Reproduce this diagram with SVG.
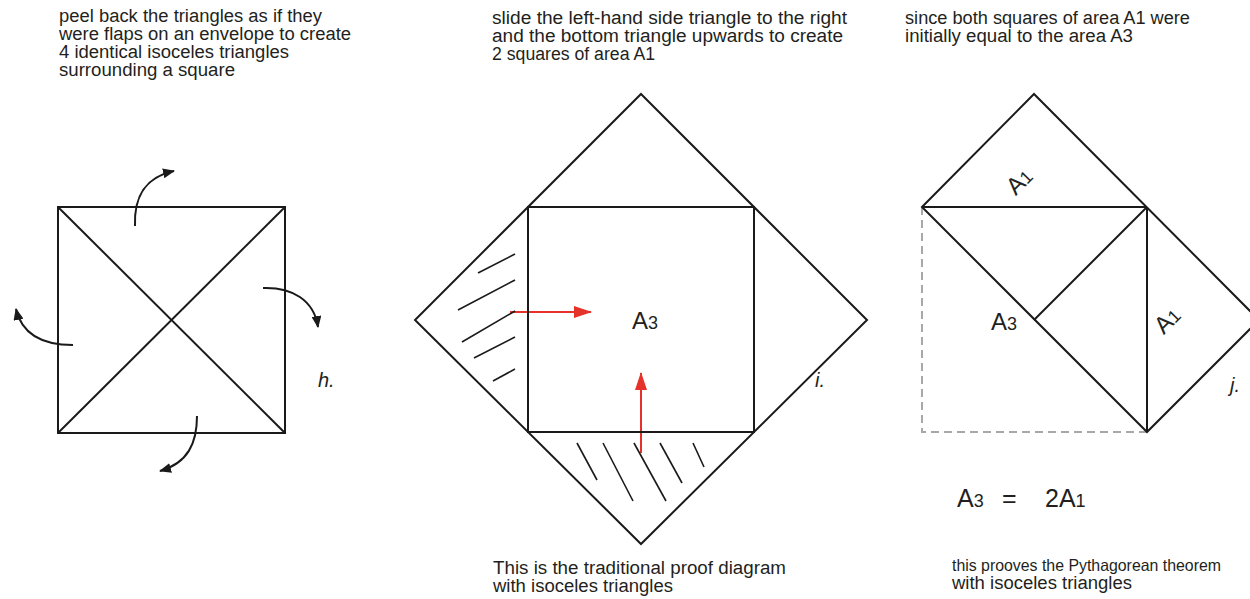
<svg xmlns="http://www.w3.org/2000/svg" width="1250" height="599" viewBox="0 0 1250 599">
<style>
.t{font-family:"Liberation Sans",Arial,sans-serif;font-size:18px;fill:#231f20}
.lbl{font-family:"Liberation Sans",Arial,sans-serif;fill:#231f20}
.it{font-family:"Liberation Sans",Arial,sans-serif;font-style:italic;font-size:20px;fill:#231f20}
.ln{fill:none;stroke:#1a1a1a;stroke-width:2;stroke-linejoin:miter}
.hatch{fill:none;stroke:#1a1a1a;stroke-width:1.6}
.arr{fill:none;stroke:#1a1a1a;stroke-width:2}
.red{fill:none;stroke:#e5322a;stroke-width:2}
.dash{fill:none;stroke:#a8a8a8;stroke-width:2;stroke-dasharray:8 5}
</style>
<defs>
<marker id="ah" viewBox="0 0 12 10" refX="11" refY="5" markerWidth="12" markerHeight="10" markerUnits="userSpaceOnUse" orient="auto">
<path d="M0,0 L12,5 L0,10 Z" fill="#1a1a1a"/>
</marker>
<marker id="rh" viewBox="0 0 18 12" refX="17" refY="6" markerWidth="18" markerHeight="12" markerUnits="userSpaceOnUse" orient="auto">
<path d="M0,0 L18,6 L0,12 Z" fill="#e5322a"/>
</marker>
</defs>

<g id="panel-h">
<text class="t" x="59" y="22" textLength="263" lengthAdjust="spacingAndGlyphs">peel back the triangles as if they</text>
<text class="t" x="59" y="40" textLength="292" lengthAdjust="spacingAndGlyphs">were flaps on an envelope to create</text>
<text class="t" x="59" y="58" textLength="230" lengthAdjust="spacingAndGlyphs">4 identical isoceles triangles</text>
<text class="t" x="59" y="76" textLength="176" lengthAdjust="spacingAndGlyphs">surrounding a square</text>
<g id="h-square">
<rect class="ln" x="58" y="207" width="227" height="226"/>
<line class="ln" x1="58" y1="207" x2="285" y2="433"/>
<line class="ln" x1="285" y1="207" x2="58" y2="433"/>
</g>
<text class="it" x="318" y="387">h.</text>
</g>

<g id="connectors">
<path class="arr" d="M135,226 C134,200 142,178 174,171" marker-end="url(#ah)"/>
<path class="arr" d="M263,288 C292,287 314,300 318,327" marker-end="url(#ah)"/>
<path class="arr" d="M73,345 C44,345 22,335 16,309" marker-end="url(#ah)"/>
<path class="arr" d="M197,416 C197,443 188,463 160,471" marker-end="url(#ah)"/>
<path class="red" d="M510,312 L591,312" marker-end="url(#rh)"/>
<path class="red" d="M641,453 L641,373" marker-end="url(#rh)"/>
</g>

<g id="panel-i">
<text class="t" x="492" y="24" textLength="355" lengthAdjust="spacingAndGlyphs">slide the left-hand side triangle to the right</text>
<text class="t" x="492" y="42" textLength="351" lengthAdjust="spacingAndGlyphs">and the bottom triangle upwards to create</text>
<text class="t" x="492" y="60" textLength="163" lengthAdjust="spacingAndGlyphs">2 squares of area A1</text>
<g id="i-diamond">
<polygon class="ln" points="641,94 867,320 641,544 415,320"/>
<rect class="ln" x="528" y="207" width="226" height="225"/>
</g>
<g id="i-hatch-left">
<line class="hatch" x1="478" y1="273" x2="515" y2="254"/>
<line class="hatch" x1="458" y1="310" x2="515" y2="280"/>
<line class="hatch" x1="462" y1="342" x2="515" y2="311"/>
<line class="hatch" x1="474" y1="358" x2="515" y2="337"/>
<line class="hatch" x1="493" y1="381" x2="515" y2="369"/>
</g>
<g id="i-hatch-bottom">
<line class="hatch" x1="577" y1="443" x2="597" y2="480"/>
<line class="hatch" x1="603" y1="443" x2="633" y2="501"/>
<line class="hatch" x1="634" y1="443" x2="666" y2="501"/>
<line class="hatch" x1="660" y1="443" x2="682" y2="483"/>
<line class="hatch" x1="693" y1="443" x2="704" y2="467"/>
</g>
<text class="lbl" x="632" y="329" font-size="24">A<tspan font-size="18">3</tspan></text>
<text class="it" x="815" y="387">i.</text>
<text class="t" x="493" y="574" textLength="293" lengthAdjust="spacingAndGlyphs">This is the traditional proof diagram</text>
<text class="t" x="493" y="592" textLength="180" lengthAdjust="spacingAndGlyphs">with isoceles triangles</text>
</g>

<g id="panel-j">
<text class="t" x="905" y="24" textLength="285" lengthAdjust="spacingAndGlyphs">since both squares of area A1 were</text>
<text class="t" x="905" y="42" textLength="228" lengthAdjust="spacingAndGlyphs">initially equal to the area A3</text>
<path class="dash" d="M922,207 L922,432 L1147,432"/>
<g id="j-shape">
<polygon class="ln" points="922,207 1034,94 1259,320 1147,432"/>
<line class="ln" x1="922" y1="207" x2="1147" y2="207"/>
<line class="ln" x1="1147" y1="207" x2="1147" y2="432"/>
<line class="ln" x1="1147" y1="207" x2="1034" y2="320"/>
</g>
<text class="lbl" font-size="24" transform="translate(1025,187) rotate(-45)" text-anchor="middle">A<tspan font-size="18">1</tspan></text>
<text class="lbl" font-size="24" transform="translate(1173,326) rotate(-45)" text-anchor="middle">A<tspan font-size="18">1</tspan></text>
<text class="lbl" x="991" y="330" font-size="24">A<tspan font-size="18">3</tspan></text>
<text class="it" x="1230" y="392">j.</text>
<text class="lbl" x="957" y="507" font-size="25">A<tspan font-size="18">3</tspan><tspan x="1002">=</tspan><tspan x="1045">2A</tspan><tspan font-size="18">1</tspan></text>
<text class="t" x="952" y="571" font-size="16.5" style="font-size:16.5px" textLength="269" lengthAdjust="spacingAndGlyphs">this prooves the Pythagorean theorem</text>
<text class="t" x="952" y="589" textLength="180" lengthAdjust="spacingAndGlyphs">with isoceles triangles</text>
</g>
</svg>
